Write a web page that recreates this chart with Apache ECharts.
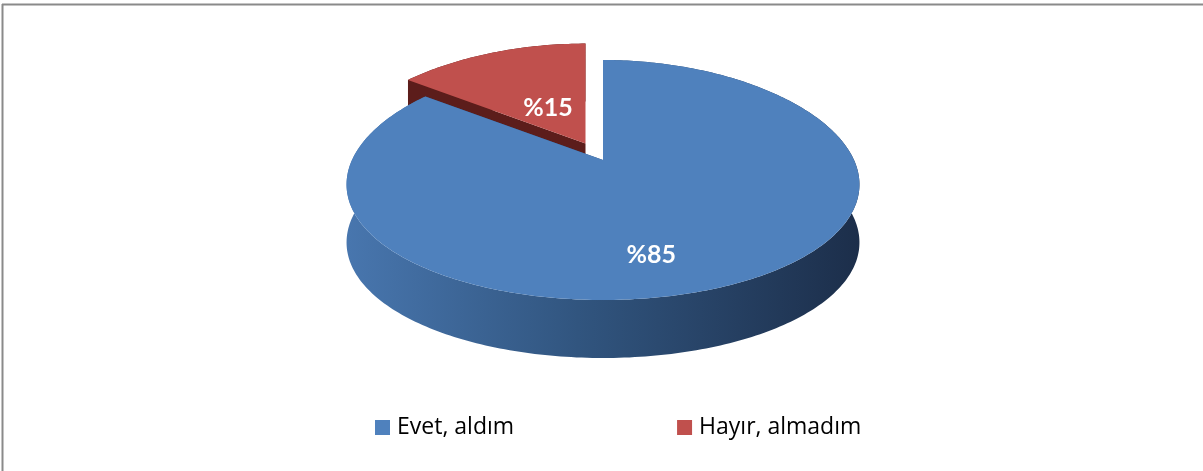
<!DOCTYPE html>
<html>
<head>
<meta charset="utf-8">
<script src="https://cdn.jsdelivr.net/npm/echarts@6/dist/echarts.min.js"></script>
<style>
  html, body { margin: 0; padding: 0; background: #fff; }
  #chart { width: 1203px; height: 471px; }
</style>
</head>
<body>
<div id="chart"></div>
<script>
// data
const categories = ['Evet, aldım', 'Hayır, almadım'];
const values = [85, 15];
const labelTexts = ['%85', '%15'];

// look
const topColors = ['#4F81BD', '#C0504D'];
const faceColors = ['#2c4c78', '#5c1d1b'];
const explode = [0, 24]; // px, red slice pulled out
const labelShift = [[-28, 25], [23, 23]];

// fake 3d projection of the pie disc (slight perspective)
const geo = { cx: 603, cy: 160, rx: 251, ry: 120, bulge: 20, persp: 0.214, depth: 58 };

function proj(u, v) {
    return [geo.cx + geo.rx * u * (1 + geo.persp * v), geo.cy + geo.ry * v + geo.bulge * v * v];
}
function rimPoint(theta, r) {
    return proj(r * Math.sin(theta), -r * Math.cos(theta));
}

const total = values.reduce((a, b) => a + b, 0);

function makeRender(i) {
    return function (params, api) {
        let start = 0;
        for (let k = 0; k < i; k++) start += values[k];
        const val = api.value(0);
        const a0 = start / total * Math.PI * 2;
        const a1 = (start + val) / total * Math.PI * 2;
        const mid = (a0 + a1) / 2;

        let dx = 0, dy = 0;
        if (explode[i]) {
            const ex = Math.sin(mid) * geo.rx, ey = -Math.cos(mid) * geo.ry;
            const len = Math.hypot(ex, ey);
            dx = ex / len * explode[i];
            dy = ey / len * explode[i];
        }

        const steps = Math.max(4, Math.ceil((a1 - a0) / (Math.PI / 180)));
        const top = [];
        for (let s = 0; s <= steps; s++) {
            const p = rimPoint(a0 + (a1 - a0) * s / steps, 1);
            top.push([p[0] + dx, p[1] + dy]);
        }
        const bottom = top.map(p => [p[0], p[1] + geo.depth]).reverse();
        const c = proj(0, 0);
        const tip = [c[0] + dx, c[1] + dy];
        const tipB = [tip[0], tip[1] + geo.depth];
        const first = top[0], last = top[top.length - 1];
        const base = i === 0 ? 10 : 0; // blue in front of the exploded red

        const lp = rimPoint(mid, 0.6);
        const wallFill = i === 0
            ? new echarts.graphic.LinearGradient(347, 0, 860, 0, [
                { offset: 0, color: '#4876ae' },
                { offset: 0.45, color: '#31557f' },
                { offset: 1, color: '#1c2e4a' }
            ], true)
            : faceColors[i];

        const children = [
            {
                type: 'polygon', z2: base + 1,
                shape: { points: top.concat(bottom) },
                style: { fill: wallFill }
            },
            {
                type: 'polygon', z2: base + 2,
                shape: { points: [tip, last, [last[0], last[1] + geo.depth], tipB] },
                style: { fill: faceColors[i] }
            },
            {
                type: 'polygon', z2: base + 3,
                shape: { points: [tip, first, [first[0], first[1] + geo.depth], tipB] },
                style: { fill: faceColors[i] }
            },
            {
                type: 'polygon', z2: base + 4,
                shape: { points: [tip].concat(top) },
                style: { fill: topColors[i] }
            },
            {
                type: 'text', z2: base + 5,
                x: lp[0] + dx + labelShift[i][0],
                y: lp[1] + dy + labelShift[i][1],
                style: {
                    text: labelTexts[i],
                    fill: '#fff',
                    fontFamily: 'Lato',
                    fontWeight: 'bold',
                    fontSize: 25,
                    align: 'center',
                    verticalAlign: 'middle'
                }
            }
        ];
        return { type: 'group', children: children };
    };
}

const chart = echarts.init(document.getElementById('chart'));

chart.setOption({
    animation: false,
    color: topColors,
    legend: {
        data: categories,
        left: 370,
        top: 411,
        icon: 'rect',
        itemWidth: 15,
        itemHeight: 15,
        itemGap: 163,
        textStyle: { fontFamily: 'Open Sans', fontSize: 23, color: '#000', padding: [0, 0, 0, 2] }
    },
    graphic: [
        { type: 'line', shape: { x1: 2, y1: 4.5, x2: 1203, y2: 4.5 }, style: { stroke: '#8a8a8a', lineWidth: 2 } },
        { type: 'line', shape: { x1: 2.5, y1: 4, x2: 2.5, y2: 471 }, style: { stroke: '#8a8a8a', lineWidth: 2 } }
    ],
    series: categories.map((name, i) => ({
        type: 'custom',
        name: name,
        coordinateSystem: 'none',
        renderItem: makeRender(i),
        data: [[values[i]]]
    }))
});
</script>
</body>
</html>
